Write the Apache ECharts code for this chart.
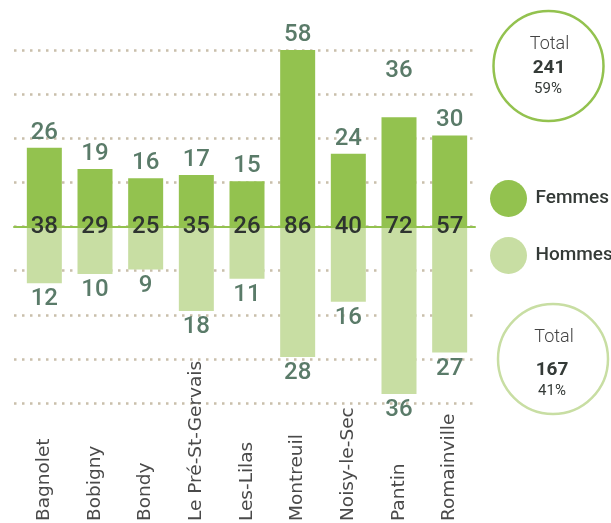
<!DOCTYPE html>
<html>
<head>
<meta charset="utf-8">
<script src="https://cdn.jsdelivr.net/npm/echarts@6/dist/echarts.min.js"></script>
<style>
  html, body { margin: 0; padding: 0; background: #fff; }
  #main { width: 611px; height: 523px; }
</style>
</head>
<body>
<div id="main"></div>
<script>
// villes
var villes = ["Bagnolet", "Bobigny", "Bondy", "Le Pré-St-Gervais", "Les-Lilas",
  "Montreuil", "Noisy-le-Sec", "Pantin", "Romainville"];
var femmes = [26, 19, 16, 17, 15, 58, 24, 36, 30];
var hommes = [12, 10, 9, 18, 11, 28, 16, 36, 27];
var totaux = [38, 29, 25, 35, 26, 86, 40, 72, 57];
var totalFemmes = 241, pctFemmes = "59%";
var totalHommes = 167, pctHommes = "41%";

var cVert = "#93c24f";
var cClair = "#c8dea3";
var cChiffre = "#5a7b69";
var cTexte = "#343a37";
var police = "Roboto";

var myChart = echarts.init(document.getElementById("main"));

// label Pantin decale vers le haut comme dans l'original
var femmesData = femmes.map(function (v, i) {
  if (villes[i] == "Pantin") {
    return { value: v, label: { offset: [0, -31] } };
  }
  return v;
});

var option = {
  animation: false,
  grid: [
    { left: 19, right: 136, top: 50, height: 177 },   // femmes
    { left: 19, right: 136, top: 228, height: 166 },  // hommes
    { left: 14, right: 136, top: 50, height: 353 },   // lignes pointillees
    { left: 19, right: 136, top: 521, height: 1 }     // noms des villes
  ],
  xAxis: [
    { gridIndex: 0, type: "category", data: villes, show: false },
    { gridIndex: 1, type: "category", data: villes, show: false },
    {
      gridIndex: 2, type: "value", min: 0, max: 1, z: 3,
      axisLine: { show: true, onZero: true, lineStyle: { color: cVert, width: 2 } },
      axisTick: { show: false }, axisLabel: { show: false }, splitLine: { show: false }
    },
    {
      gridIndex: 3, type: "category", data: villes, position: "top",
      axisLine: { show: false }, axisTick: { show: false },
      axisLabel: {
        rotate: 90, margin: 0, interval: 0,
        fontFamily: "DejaVu Sans", fontSize: 18.5, color: "#4a4a4a"
      }
    }
  ],
  yAxis: [
    { gridIndex: 0, type: "value", min: 0, max: 58, show: false, splitLine: { show: false } },
    { gridIndex: 1, type: "value", min: 0, max: 36, inverse: true, show: false, splitLine: { show: false } },
    {
      gridIndex: 2, type: "value", min: -4, max: 4, interval: 1,
      axisLine: { show: false }, axisTick: { show: false }, axisLabel: { show: false },
      splitLine: { show: true, lineStyle: { color: "#c9bfab", width: 2.5, type: [2.5, 5.5] } }
    },
    { gridIndex: 3, type: "value", show: false }
  ],
  legend: {
    data: ["Femmes", "Hommes"],
    orient: "vertical",
    left: 485,
    top: 175,
    icon: "circle",
    itemWidth: 38,
    itemHeight: 37,
    itemGap: 20,
    textStyle: {
      fontFamily: police, fontSize: 19, fontWeight: 500, color: cTexte,
      padding: [0, 0, 0, 3]
    }
  },
  series: [
    {
      name: "Femmes", type: "bar", xAxisIndex: 0, yAxisIndex: 0,
      data: femmesData, barWidth: 35,
      itemStyle: { color: cVert },
      label: {
        show: true, position: "top", distance: 3,
        fontFamily: police, fontSize: 24, fontWeight: 500, color: cChiffre
      }
    },
    {
      name: "Hommes", type: "bar", xAxisIndex: 1, yAxisIndex: 1,
      data: hommes, barWidth: 35,
      itemStyle: { color: cClair },
      label: {
        show: true, position: "bottom", distance: 4,
        fontFamily: police, fontSize: 24, fontWeight: 500, color: cChiffre
      }
    },
    {
      name: "Total", type: "scatter", xAxisIndex: 0, yAxisIndex: 0,
      data: totaux.map(function () { return 0; }),
      symbolSize: 1, z: 10, clip: false, silent: true,
      itemStyle: { color: "#ffffff", opacity: 0.01 },
      label: {
        show: true, position: "inside", opacity: 1,
        formatter: function (p) { return totaux[p.dataIndex]; },
        fontFamily: police, fontSize: 24, fontWeight: 500,
        color: "#2e3430", textBorderWidth: 0
      }
    }
  ],
  graphic: [
    { type: "circle", shape: { cx: 548.5, cy: 66, r: 55 }, style: { fill: "none", stroke: cVert, lineWidth: 2.5 } },
    { type: "text", x: 549.5, y: 44, style: { text: "Total", fontFamily: police, fontSize: 18, fontWeight: 300, fill: "#444", align: "center", verticalAlign: "middle" } },
    { type: "text", x: 549, y: 68, style: { text: String(totalFemmes), fontFamily: police, fontSize: 19, fontWeight: "bold", fill: cTexte, align: "center", verticalAlign: "middle" } },
    { type: "text", x: 548, y: 89, style: { text: pctFemmes, fontFamily: police, fontSize: 15, fill: cTexte, align: "center", verticalAlign: "middle" } },

    { type: "circle", shape: { cx: 553, cy: 359, r: 55 }, style: { fill: "none", stroke: cClair, lineWidth: 2.5 } },
    { type: "text", x: 554, y: 337, style: { text: "Total", fontFamily: police, fontSize: 18, fontWeight: 300, fill: "#444", align: "center", verticalAlign: "middle" } },
    { type: "text", x: 552, y: 370, style: { text: String(totalHommes), fontFamily: police, fontSize: 19, fontWeight: "bold", fill: cTexte, align: "center", verticalAlign: "middle" } },
    { type: "text", x: 552, y: 391, style: { text: pctHommes, fontFamily: police, fontSize: 15, fill: cTexte, align: "center", verticalAlign: "middle" } }
  ]
};

myChart.setOption(option);
</script>
</body>
</html>
